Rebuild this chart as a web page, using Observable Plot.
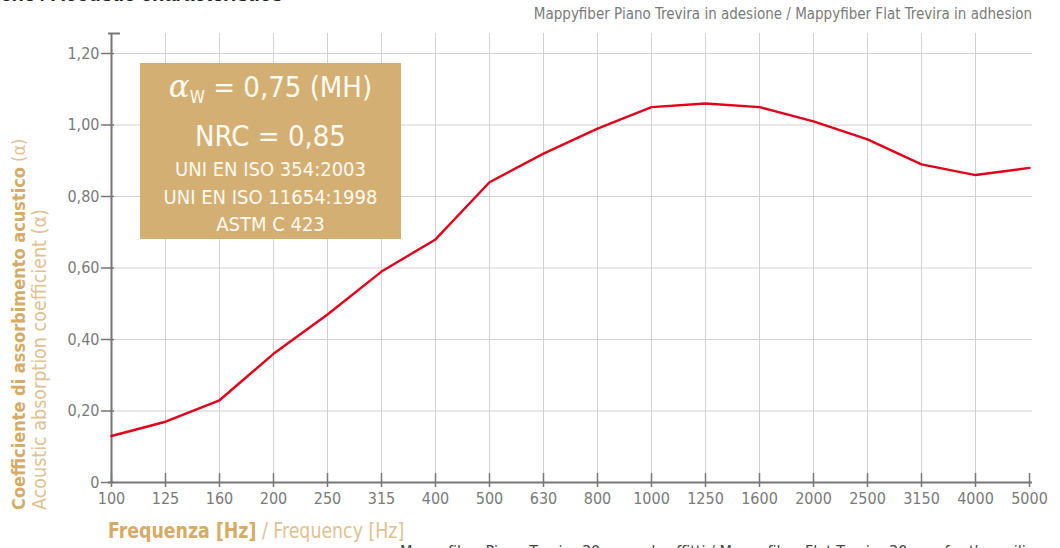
<!DOCTYPE html>
<html><head><meta charset="utf-8">
<script src="https://cdn.jsdelivr.net/npm/d3@7"></script>
<script src="https://cdn.jsdelivr.net/npm/@observablehq/plot@0.6"></script>
<style>
body{margin:0;background:#fff;}
#wrap{position:relative;width:1060px;height:548px;overflow:hidden;font-family:"DejaVu Sans Condensed",Roboto,sans-serif;}
#wrap svg{position:absolute;left:0;top:0;}
.abs{position:absolute;white-space:nowrap;line-height:1;}
#title{right:777px;top:-17px;font:italic bold 20px "Liberation Sans","Arial",sans-serif;color:#222;}
#sub{right:28px;top:7px;font-size:15px;color:#7a7a7a;}
#foot{left:400px;top:544px;font-size:16px;color:#444;}
#box{position:absolute;left:140px;top:63px;width:261px;height:176px;background:#d4af74;color:#fffaf0;text-align:center;}
#box .big{font-size:29px;line-height:39px;}
#box .small{font-size:20px;line-height:27.5px;}
#ylab{left:8px;top:510px;transform-origin:0 0;transform:rotate(-90deg);}
#ylab div{line-height:21px;}
.gb{color:#d5ab66;font-weight:bold;}
.gl{color:#dfc192;}
#xlab{left:108px;top:521px;font-size:21px;transform-origin:0 0;transform:scaleX(0.92);}
</style></head><body><div id="wrap">
<div class="abs" id="title">Caratteristiche acustiche / Acoustic characteristics</div>
<div class="abs" id="sub">Mappyfiber Piano Trevira in adesione / Mappyfiber Flat Trevira in adhesion</div>
<div class="abs" id="foot">Mappyfiber Piano Trevira 30 mm ad soffitti / Mappyfiber Flat Trevira 30 mm for the ceiling</div>
<div class="abs" id="ylab"><div style="font-size:18px"><span class="gb">Coefficiente di assorbimento acustico</span><span class="gl"> (α)</span></div><div class="gl" style="font-size:19.5px">Acoustic absorption coefficient (α)</div></div>
<div class="abs" id="xlab"><span class="gb">Frequenza [Hz]</span><span class="gl"> / Frequency [Hz]</span></div>
</div>
<script>
const frequencies = ["100","125","160","200","250","315","400","500","630","800","1000","1250","1600","2000","2500","3150","4000","5000"];
const absorption = [0.13,0.17,0.23,0.36,0.47,0.59,0.68,0.84,0.92,0.99,1.05,1.06,1.05,1.01,0.96,0.89,0.86,0.88];
const yTicks = [0,0.2,0.4,0.6,0.8,1.0,1.2];
const yMax = 1.256;
const boxLines = ["NRC = 0,85","UNI EN ISO 354:2003","UNI EN ISO 11654:1998","ASTM C 423"];

const data = frequencies.map((f,i)=>({f, a: absorption[i]}));
const fmt = d => d === 0 ? "0" : d.toFixed(2).replace(".", ",");
const grey = "#777";
const font = '"DejaVu Sans Condensed",Roboto,sans-serif';

const chart = Plot.plot({
  width: 1060, height: 548,
  marginLeft: 108, marginRight: 28, marginTop: 33, marginBottom: 66,
  style: {fontFamily: font, fontSize: "16px", color: "#7a7a7a", background: "transparent", overflow: "visible"},
  x: {type: "point", domain: frequencies, padding: 0, axis: null},
  y: {domain: [0, yMax], axis: null},
  marks: [
    Plot.ruleY(yTicks.filter(d => d > 0), {stroke: "#d2d2d2", strokeWidth: 1}),
    Plot.ruleX(frequencies.slice(1, -1), {stroke: "#d2d2d2", strokeWidth: 1}),
    Plot.ruleX([frequencies[0]], {stroke: grey, strokeWidth: 2}),
    Plot.ruleY([0], {stroke: grey, strokeWidth: 2}),
    Plot.axisY({ticks: yTicks, tickSize: 13, dx: 6, stroke: grey, strokeWidth: 1.5, fill: "none", label: null}),
    Plot.axisY({ticks: [yMax], tickSize: 12, dx: 12, stroke: grey, strokeWidth: 2, fill: "none", label: null}),
    Plot.axisY({ticks: yTicks, tickSize: 0, tickPadding: 9, tickFormat: fmt, fill: "#7a7a7a", label: null, fontSize: 16}),
    Plot.axisX({tickSize: 14, dy: -9, stroke: grey, strokeWidth: 1.5, fill: "none", label: null}),
    Plot.axisX({tickSize: 0, tickPadding: 10, fill: "#7a7a7a", label: null, fontSize: 16}),
    Plot.line(data, {x: "f", y: "a", stroke: "#e2001a", strokeWidth: 2.4})
  ]
});
const wrap = document.getElementById("wrap");
wrap.insertBefore(chart, wrap.firstChild);

const box = document.createElement("div");
box.id = "box";
box.innerHTML = `<div class="big" style="margin-top:4px"><span style="font-family:'DejaVu Serif',serif;font-style:italic;font-size:31px">α</span><span style="font-size:17px;vertical-align:-6px">W</span> = 0,75 (MH)</div>` +
  `<div class="big">${boxLines[0]}</div>` +
  boxLines.slice(1).map(t => `<div class="small">${t}</div>`).join("");
wrap.appendChild(box);
</script>
</body></html>
